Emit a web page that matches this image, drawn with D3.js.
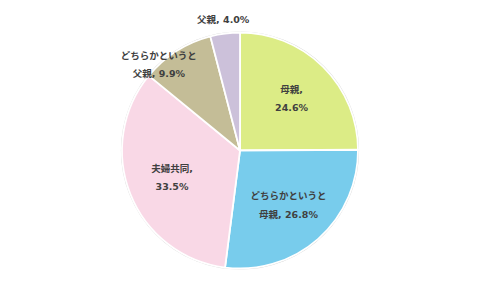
<!DOCTYPE html>
<html>
<head>
<meta charset="utf-8">
<script src="https://cdn.jsdelivr.net/npm/d3@7"></script>
<style>
  body { margin: 0; background: #fff; }
</style>
</head>
<body>
<div class="pie"></div>
<script>
// data ======================================================== //
var labels = [["母親,", "24.6%"], ["どちらかというと", "母親, 26.8%"], ["夫婦共同,", "33.5%"], ["どちらかというと", "父親, 9.9%"], ["父親, 4.0%"]];
var values = [24.6, 26.8, 33.5, 9.9, 4.0];
var colors = ["#dcec86", "#78ccec", "#f9d8e6", "#c4bd97", "#ccc1da"];

// drawing ===================================================== //
var width = 480,
  height = 302,
  radius = 118,
  cx = 240,
  cy = 150.5;

var svg = d3
  .select(".pie")
  .append("svg")
  .attr("width", width)
  .attr("height", height);

var g = svg.append("g").attr("transform", "translate(" + cx + "," + cy + ")");

var pie = d3
  .pie()
  .sort(null)
  .value(function (d) {
    return d;
  });

var arcs = pie(values);

var arc = d3.arc().innerRadius(0).outerRadius(radius);

// faint outer edge
g.append("circle")
  .attr("r", radius + 0.5)
  .attr("fill", "none")
  .attr("stroke", "#d4d4d4")
  .attr("stroke-width", 1.2);

g.selectAll("path")
  .data(arcs)
  .enter()
  .append("path")
  .attr("d", arc)
  .attr("fill", function (d, i) {
    return colors[i];
  })
  .attr("stroke", "#fff")
  .attr("stroke-width", 1.8)
  .attr("stroke-linejoin", "round");

// label placement: big slices inside, medium ones on the edge
// (pulled toward the slice start), tiny ones outside
var labelPos = function (d) {
  var r, a;
  var span = d.endAngle - d.startAngle;
  if (d.value >= 20) {
    r = radius * 0.62;
    a = d.startAngle + span / 2;
  } else if (d.value >= 5) {
    r = radius * 1.0;
    a = d.startAngle + span * 0.2;
  } else {
    r = radius * 1.12;
    a = d.startAngle + span / 2;
  }
  return [r * Math.sin(a), -r * Math.cos(a)];
};

var text = g
  .selectAll("text")
  .data(arcs)
  .enter()
  .append("text")
  .attr("transform", function (d) {
    var c = labelPos(d);
    return "translate(" + c[0] + "," + c[1] + ")";
  })
  .attr("text-anchor", "middle")
  .attr("font-family", "'DejaVu Sans', 'Noto Sans CJK JP', sans-serif")
  .attr("font-weight", "bold")
  .attr("font-size", "9.5px")
  .attr("fill", "#404040");

text.each(function (d, i) {
  var lines = labels[i];
  var t = d3.select(this);
  var lh = 18.5;
  var y0 = -((lines.length - 1) * lh) / 2;
  lines.forEach(function (s, k) {
    t.append("tspan")
      .attr("x", 0)
      .attr("y", y0 + k * lh)
      .attr("dy", "0.35em")
      .text(s);
  });
});
</script>
</body>
</html>
